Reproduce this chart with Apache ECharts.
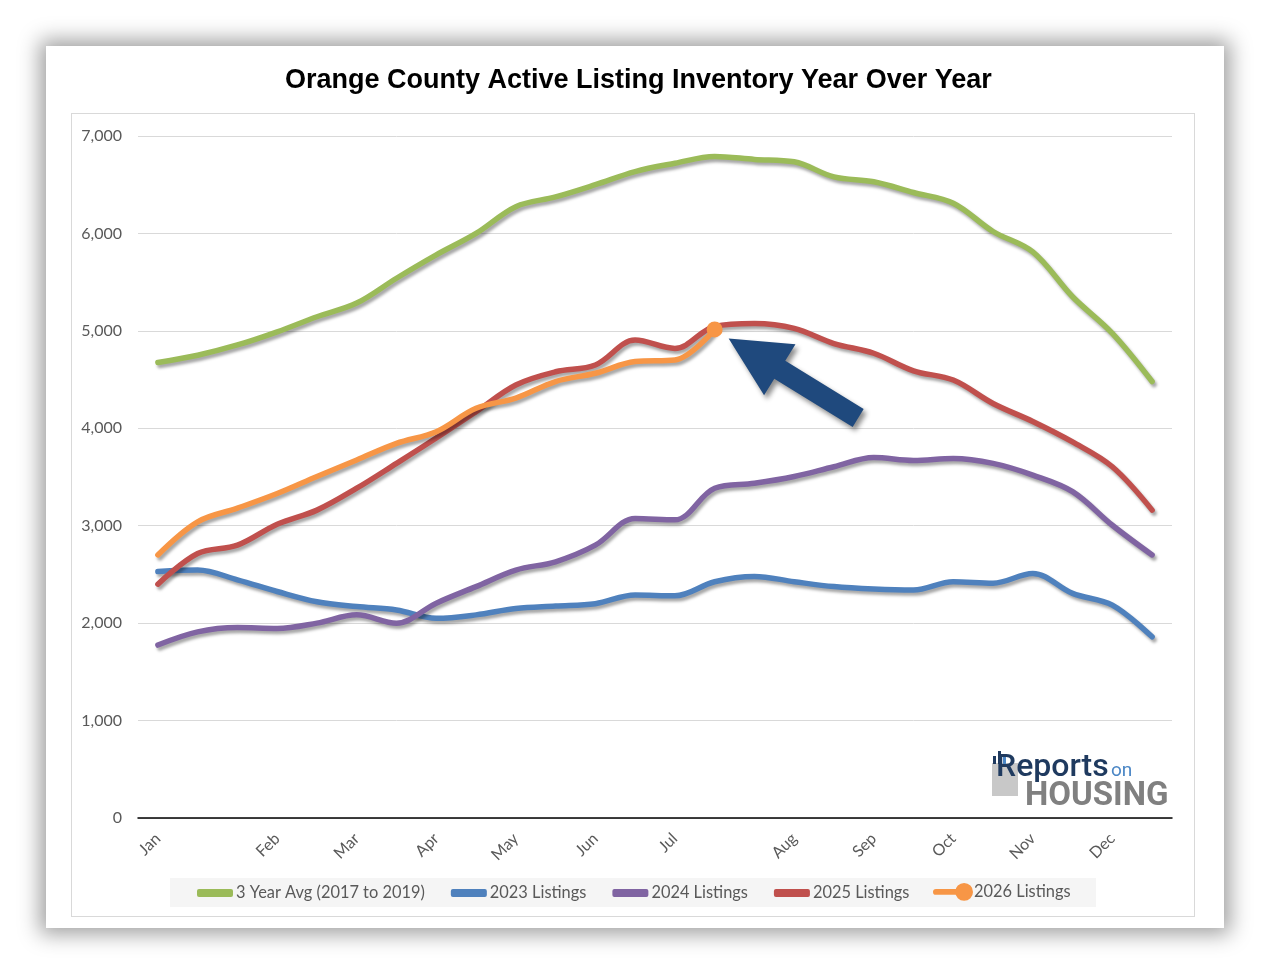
<!DOCTYPE html>
<html>
<head>
<meta charset="utf-8">
<title>Orange County Active Listing Inventory</title>
<script src="https://cdn.jsdelivr.net/npm/echarts@6.0.0/dist/echarts.min.js"></script>
<style>
  html, body { margin: 0; padding: 0; background: #fff; }
  #card {
    position: absolute; left: 46px; top: 46px; width: 1178px; height: 882px;
    background: #fff; box-shadow: 0 0 20px 6px rgba(0, 0, 0, 0.38);
  }
  #frame {
    position: absolute; left: 71px; top: 113px; width: 1122px; height: 802px;
    border: 1px solid #d9d9d9;
  }
  #main { position: absolute; left: 0; top: 0; width: 1270px; height: 975px; }
</style>
</head>
<body>
<div id="card"></div>
<div id="frame"></div>
<div id="main"></div>
<script>
// twice-a-month periods, 26 per year; only month starts are labelled
var tickLabels = ['Jan', '', '', 'Feb', '', 'Mar', '', 'Apr', '', 'May', '', 'Jun', '', 'Jul',
  '', '', 'Aug', '', 'Sep', '', 'Oct', '', 'Nov', '', 'Dec', ''];
var periods = tickLabels.map(function (t, i) { return 'P' + (i + 1); });

var avg3yr = [4675, 4750, 4855, 4990, 5145, 5285, 5540, 5780, 6000, 6275, 6375, 6500, 6635,
  6720, 6790, 6760, 6735, 6580, 6530, 6420, 6310, 6020, 5810, 5350, 4975, 4480];
var y2023 = [2530, 2545, 2445, 2325, 2220, 2170, 2135, 2050, 2085, 2150, 2175, 2200, 2290,
  2280, 2425, 2480, 2425, 2375, 2350, 2340, 2425, 2410, 2510, 2305, 2185, 1860];
var y2024 = [1775, 1910, 1955, 1945, 2000, 2085, 2000, 2205, 2375, 2545, 2630, 2800, 3075,
  3060, 3385, 3435, 3505, 3605, 3700, 3670, 3690, 3640, 3520, 3350, 3005, 2700];
var y2025 = [2400, 2715, 2800, 3015, 3160, 3385, 3640, 3900, 4170, 4445, 4580, 4650, 4905,
  4820, 5045, 5075, 5025, 4870, 4770, 4590, 4495, 4255, 4070, 3860, 3605, 3160];
var y2026 = [2700, 3040, 3180, 3330, 3505, 3675, 3845, 3965, 4205, 4310, 4480, 4565, 4685,
  4700, 5015];

var names = ['3 Year Avg (2017 to 2019)', '2023 Listings', '2024 Listings', '2025 Listings', '2026 Listings'];
var colors = ['#9bbb59', '#4f81bd', '#8064a2', '#c0504d', '#f79646'];

var txtColor = '#595959';
var font = 'Lato, "Open Sans", sans-serif';

function lineSeries(idx, values) {
  return {
    name: names[idx],
    type: 'line',
    data: values,
    smooth: 0.35,
    symbol: 'none',
    color: colors[idx],
    z: 2 + idx,
    lineStyle: {
      width: 5.5, color: colors[idx], cap: 'round', join: 'round',
      shadowColor: 'rgba(0,0,0,0.35)', shadowBlur: 3, shadowOffsetX: 2, shadowOffsetY: 3
    }
  };
}

// last 2026 point carries the round marker
var data2026 = y2026.map(function (v, i) {
  if (i === y2026.length - 1) {
    return { value: v, symbol: 'circle', symbolSize: 16, itemStyle: { color: colors[4] } };
  }
  return v;
});

var series = [
  lineSeries(0, avg3yr),
  lineSeries(1, y2023),
  lineSeries(2, y2024),
  lineSeries(3, y2025),
  lineSeries(4, data2026)
];
series[4].showSymbol = true;

var chart = echarts.init(document.getElementById('main'), null, { renderer: 'canvas' });

var legendBg = {
  type: 'rect', left: 170, top: 878, z: -1,
  shape: { width: 926, height: 29 },
  style: { fill: '#f5f5f5' }
};

var option = {
  backgroundColor: 'transparent',
  animation: false,
  title: {
    text: 'Orange County Active Listing Inventory Year Over Year',
    left: 280,
    top: 62,
    textStyle: { fontFamily: '"Liberation Sans", Arial, sans-serif', fontSize: 27, fontWeight: 'bold', color: '#000' }
  },
  graphic: [legendBg],
  legend: [
    {
      data: names.slice(0, 4).map(function (n) { return { name: n, icon: 'roundRect' }; }),
      left: 197, top: 885, padding: 0,
      itemWidth: 36, itemHeight: 8, itemGap: 26,
      textStyle: { fontFamily: font, fontSize: 16.4, color: txtColor, padding: [0, 0, 0, -2] }
    },
    {
      data: [{ name: names[4], icon: 'path://M2.5,6H26V12H2.5A3,3 0 0 1 2.5,6ZM22,9A9,9 0 1 1 40,9A9,9 0 1 1 22,9Z' }],
      left: 933, top: 883, padding: 0,
      itemWidth: 40, itemHeight: 18,
      textStyle: { fontFamily: font, fontSize: 16.4, color: txtColor, padding: [0, 0, 0, -4] }
    }
  ],
  grid: { left: 138, right: 98, top: 136, bottom: 157, containLabel: false },
  xAxis: {
    type: 'category',
    data: periods,
    boundaryGap: true,
    axisLine: { lineStyle: { color: '#000', width: 1.5 } },
    axisTick: { show: false },
    axisLabel: {
      interval: 0, rotate: 45, margin: 18,
      fontFamily: font, fontSize: 16, color: txtColor,
      formatter: function (v, i) { return tickLabels[i]; }
    }
  },
  yAxis: {
    type: 'value',
    min: 0, max: 7000, interval: 1000,
    axisLine: { show: false },
    axisTick: { show: false },
    splitLine: { lineStyle: { color: '#d9d9d9', width: 1 } },
    axisLabel: {
      margin: 16, fontFamily: font, fontSize: 16, color: txtColor,
      formatter: function (v) { return v.toLocaleString('en-US'); }
    }
  },
  series: series
};

chart.setOption(option);

// block arrow pointing at the latest 2026 point
var last = y2026.length - 1;
var p = chart.convertToPixel({ seriesIndex: 4 }, [last, y2026[last]]);
var tip = [p[0] + 14, p[1] + 9];
var ang = Math.atan2(78, 127);
var local = [[0, 0], [60, -30], [60, -10.5], [152, -10.5], [152, 10.5], [60, 10.5], [60, 30]];
var pts = local.map(function (q) {
  return [tip[0] + q[0] * Math.cos(ang) - q[1] * Math.sin(ang),
          tip[1] + q[0] * Math.sin(ang) + q[1] * Math.cos(ang)];
});

chart.setOption({
  graphic: [
    legendBg,
    {
      type: 'polygon', z: 20,
      shape: { points: pts },
      style: {
        fill: '#1f497d',
        shadowColor: 'rgba(0,0,0,0.45)', shadowBlur: 5, shadowOffsetX: 3, shadowOffsetY: 4
      }
    },
    // Reports on Housing logo
    { type: 'rect', z: 10, shape: { x: 992, y: 763, width: 26, height: 33 }, style: { fill: '#c8c8c8' } },
    { type: 'rect', z: 11, shape: { x: 993, y: 756, width: 3, height: 8 }, style: { fill: '#1f3a5f' } },
    { type: 'rect', z: 11, shape: { x: 998, y: 751, width: 3, height: 13 }, style: { fill: '#1f3a5f' } },
    { type: 'rect', z: 11, shape: { x: 1003, y: 754, width: 3, height: 10 }, style: { fill: '#4a86c5' } },
    {
      type: 'text', z: 12, x: 996, y: 768,
      style: { text: 'Reports', fill: '#1f3a5f', font: '500 32px Roboto, sans-serif', verticalAlign: 'middle' }
    },
    {
      type: 'text', z: 12, x: 1111, y: 771,
      style: { text: 'on', fill: '#4a86c5', font: '19px Roboto, sans-serif', verticalAlign: 'middle' }
    },
    {
      type: 'text', z: 12, x: 1025, y: 797,
      style: { text: 'HOUSING', fill: '#808080', font: 'bold 33px Roboto, sans-serif', verticalAlign: 'middle' }
    }
  ]
});
</script>
</body>
</html>
